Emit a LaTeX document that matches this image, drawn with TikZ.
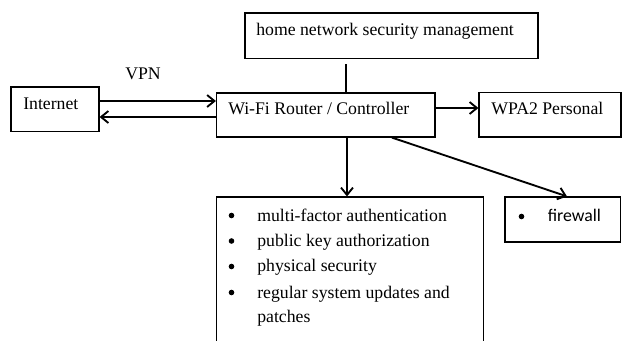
\documentclass[tikz,border=0pt]{standalone}
\usepackage{fontspec}
\setmainfont{Liberation Serif}
\newfontfamily\calibrif{Carlito}
\usetikzlibrary{arrows.meta,fit}
\begin{document}
\begin{tikzpicture}[x=0.75pt,y=-0.75pt,
  box/.style={draw, line width=0.9pt, inner sep=0pt},
  txt/.style={anchor=base west, inner sep=0pt, font=\fontsize{13.3}{16}\selectfont},
  stxt/.style={anchor=base west, inner sep=0pt, font=\calibrif\fontsize{13.3}{16}\selectfont},
  bul/.style={circle, fill=black, inner sep=0pt, minimum size=4.2pt},
  conn/.style={line width=1.4pt},
  arr/.style={conn, -{Straight Barb[length=5.5pt,width=9pt,line width=1.4pt]}}]
\useasboundingbox (0,0) rectangle (622,340);
\clip (0,0) rectangle (622,340);
% boxes
\node[box, fit={(245,13)(538,58.5)}] (home) {};
\node[box, fit={(11,87)(99,131.5)}] (inet) {};
\node[box, fit={(216.5,93)(435,137)}] (router) {};
\node[box, fit={(479,92.5)(621,137)}] (wpa) {};
\node[box, fit={(216.5,197)(483.5,345)}] (list) {};
\node[box, fit={(505,197)(620.5,242)}] (fw) {};
% texts
\node[txt] (thome) at (256,35) {home network security management};
\node[txt] (tinet) at (23,109) {Internet};
\node[txt] (tvpn) at (125,79) {VPN};
\node[txt] (trouter) at (228,114.5) {Wi-Fi Router / Controller};
\node[txt] (twpa) at (491,114) {WPA2 Personal};
\node[txt] (l1) at (257,221) {multi-factor authentication};
\node[txt] (l2) at (257,246) {public key authorization};
\node[txt] (l3) at (257,271.5) {physical security};
\node[txt] (l4) at (257,298) {regular system updates and};
\node[txt] (l5) at (257,322.5) {patches};
\node[stxt] (tfw) at (547.5,221.5) {firewall};
% bullets
\node[bul] (b1) at (231.5,215.5) {};
\node[bul] (b2) at (231.5,241) {};
\node[bul] (b3) at (231.5,266.5) {};
\node[bul] (b4) at (231.5,292.5) {};
\node[bul] (b5) at (521.5,216.5) {};
% connectors
\coordinate (hs) at (346,64);
\draw[conn] (hs) -- (router.north -| hs);
\draw[arr] (inet.east |- 0,101) -- (router.west |- 0,101);
\draw[arr] (router.west |- 0,117) -- (inet.east |- 0,117);
\draw[arr] (router.east |- 0,108) -- (wpa.west |- 0,108);
\draw[arr] (router.south -| 347,0) -- (list.north -| 347,0);
\draw[arr] (router.south -| 392,0) -- (fw.north -| 567,0);
\end{tikzpicture}
\end{document}
